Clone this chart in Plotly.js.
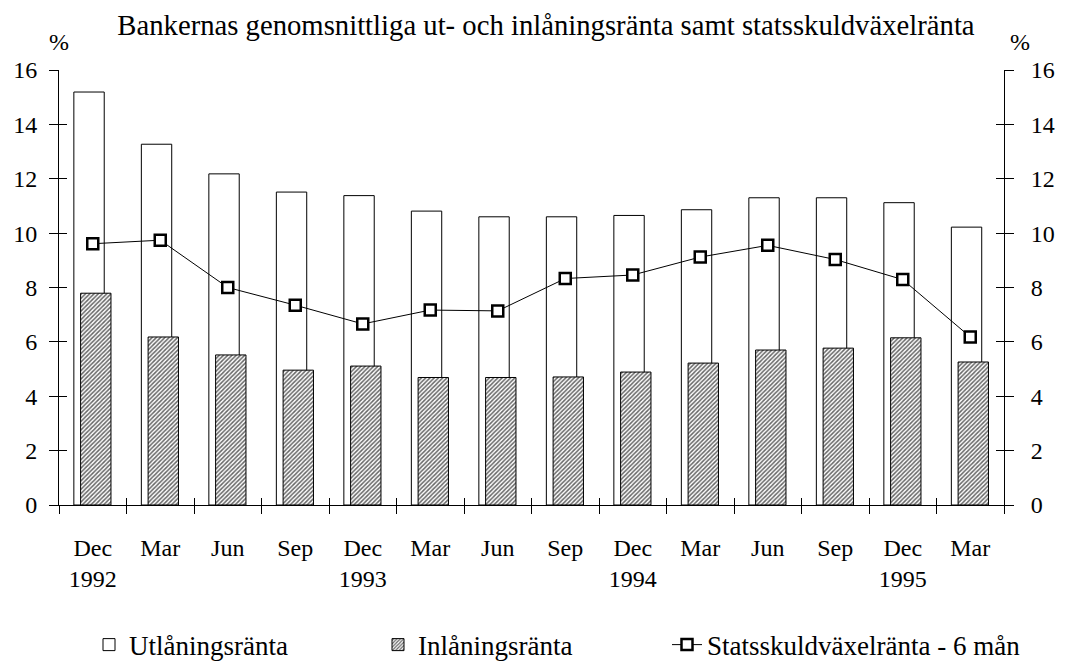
<!DOCTYPE html>
<html>
<head>
<meta charset="utf-8">
<script src="https://cdn.plot.ly/plotly-3.0.1.min.js"></script>
<style>html,body{margin:0;padding:0;background:#fff;}#chart{width:1079px;height:666px;}</style>
</head>
<body>
<div id="chart"></div>
<script>
// ---- data ----
const tickLabels = ["Dec<br>1992","Mar","Jun","Sep","Dec<br>1993","Mar","Jun","Sep","Dec<br>1994","Mar","Jun","Sep","Dec<br>1995","Mar"];
const utlaning = [15.19, 13.27, 12.18, 11.51, 11.38, 10.81, 10.60, 10.60, 10.65, 10.86, 11.30, 11.30, 11.12, 10.22];
const inlaning = [7.79, 6.18, 5.52, 4.96, 5.11, 4.69, 4.69, 4.71, 4.89, 5.22, 5.70, 5.77, 6.15, 5.26];
const statsskuld = [9.61, 9.74, 8.00, 7.35, 6.66, 7.17, 7.14, 8.33, 8.46, 9.12, 9.55, 9.03, 8.29, 6.18];
const seriesNames = ["Utlåningsränta", "Inlåningsränta", "Statsskuldväxelränta - 6 mån"];
const chartTitle = "Bankernas genomsnittliga ut- och inlåningsränta samt statsskuldväxelränta";

const idx = tickLabels.map((_, i) => i);
const boundaries = tickLabels.concat([""]).map((_, i) => i - 0.5);
const FONT = "'Liberation Serif', 'Times New Roman', serif";

const traces = [
  {type: "bar", name: seriesNames[0], x: idx, y: utlaning, width: 0.45, offset: -0.28, legend: "legend",
   marker: {color: "#ffffff", line: {color: "#000", width: 1}}},
  {type: "bar", name: seriesNames[1], x: idx, y: inlaning, width: 0.45, offset: -0.18, legend: "legend2",
   marker: {color: "#ffffff", line: {color: "#000", width: 1},
            pattern: {shape: "/", size: 3, solidity: 0.5, fgcolor: "#666", bgcolor: "#ffffff"}}},
  {type: "scatter", mode: "lines+markers", name: seriesNames[2], x: idx, y: statsskuld, legend: "legend3",
   line: {color: "#000", width: 1},
   marker: {symbol: "square", size: 11, color: "#fff", line: {color: "#000", width: 2.5}}}
];

const yBase = {range: [0, 16], dtick: 2, showgrid: false, zeroline: false, showline: true,
  linecolor: "#000", linewidth: 1, tickcolor: "#000", tickwidth: 1, fixedrange: true,
  tickfont: {family: FONT, size: 24, color: "#000"}};

function leg(xpx) {
  return {orientation: "h", x: (xpx - 59) / 945, xanchor: "left", y: -0.322, yanchor: "middle",
          font: {family: FONT, size: 27, color: "#000"}, bgcolor: "rgba(0,0,0,0)"};
}

const layout = {
  width: 1079, height: 666,
  margin: {l: 59, r: 75, t: 70, b: 161, autoexpand: false},
  paper_bgcolor: "#fff", plot_bgcolor: "#fff",
  font: {family: FONT, size: 24, color: "#000"},
  title: {text: chartTitle, font: {family: FONT, size: 28.7, color: "#000"},
          xref: "container", x: 0.506, xanchor: "center", yref: "container", y: 0.978, yanchor: "top"},
  barmode: "overlay",
  showlegend: true,
  legend: leg(89),
  legend2: leg(378),
  legend3: leg(667),
  xaxis: {range: [-0.5, 13.5], tickmode: "array", tickvals: idx, ticktext: tickLabels,
          ticks: "", showgrid: false, zeroline: false, showline: true, linecolor: "#000", linewidth: 1,
          tickfont: {family: FONT, size: 24, color: "#000"}, ticklabelstandoff: 21, fixedrange: true},
  xaxis2: {overlaying: "x", range: [-0.5, 13.5], tickmode: "array", tickvals: boundaries,
           ticks: "outside", ticklen: 8, tickcolor: "#000", showticklabels: false,
           showgrid: false, zeroline: false, showline: false, side: "bottom", anchor: "y"},
  xaxis3: {overlaying: "x", range: [-0.5, 13.5], tickmode: "array", tickvals: boundaries,
           ticks: "inside", ticklen: 7, tickcolor: "#000", showticklabels: false,
           showgrid: false, zeroline: false, showline: false, side: "bottom", anchor: "y"},
  yaxis: Object.assign({}, yBase, {side: "left", ticks: "outside", ticklen: 9, ticklabelstandoff: 7}),
  yaxis2: Object.assign({}, yBase, {overlaying: "y", side: "right", ticks: "outside", ticklen: 9, anchor: "x", ticklabelstandoff: 12}),
  yaxis3: Object.assign({}, yBase, {overlaying: "y", side: "left", ticks: "inside", ticklen: 8, showticklabels: false, anchor: "x"}),
  yaxis4: Object.assign({}, yBase, {overlaying: "y", side: "right", ticks: "inside", ticklen: 8, showticklabels: false, anchor: "x"}),
  annotations: [
    {text: "%", xref: "paper", yref: "paper", x: 0, y: 1.03, xanchor: "center", yanchor: "bottom",
     showarrow: false, font: {family: FONT, size: 24, color: "#000"}},
    {text: "%", xref: "paper", yref: "paper", x: 1.017, y: 1.03, xanchor: "center", yanchor: "bottom",
     showarrow: false, font: {family: FONT, size: 24, color: "#000"}}
  ]
};

// invisible helper traces so the tick-only helper axes are drawn
const helpers = [
  {type: "scatter", x: [0], y: [0], xaxis: "x2", yaxis: "y", mode: "markers", marker: {opacity: 0}, showlegend: false, hoverinfo: "skip"},
  {type: "scatter", x: [0], y: [0], xaxis: "x3", yaxis: "y", mode: "markers", marker: {opacity: 0}, showlegend: false, hoverinfo: "skip"},
  {type: "scatter", x: [0], y: [0], xaxis: "x", yaxis: "y2", mode: "markers", marker: {opacity: 0}, showlegend: false, hoverinfo: "skip"},
  {type: "scatter", x: [0], y: [0], xaxis: "x", yaxis: "y3", mode: "markers", marker: {opacity: 0}, showlegend: false, hoverinfo: "skip"},
  {type: "scatter", x: [0], y: [0], xaxis: "x", yaxis: "y4", mode: "markers", marker: {opacity: 0}, showlegend: false, hoverinfo: "skip"}
];

Plotly.newPlot("chart", helpers.concat(traces), layout, {displayModeBar: false, staticPlot: true});
</script>
</body>
</html>
